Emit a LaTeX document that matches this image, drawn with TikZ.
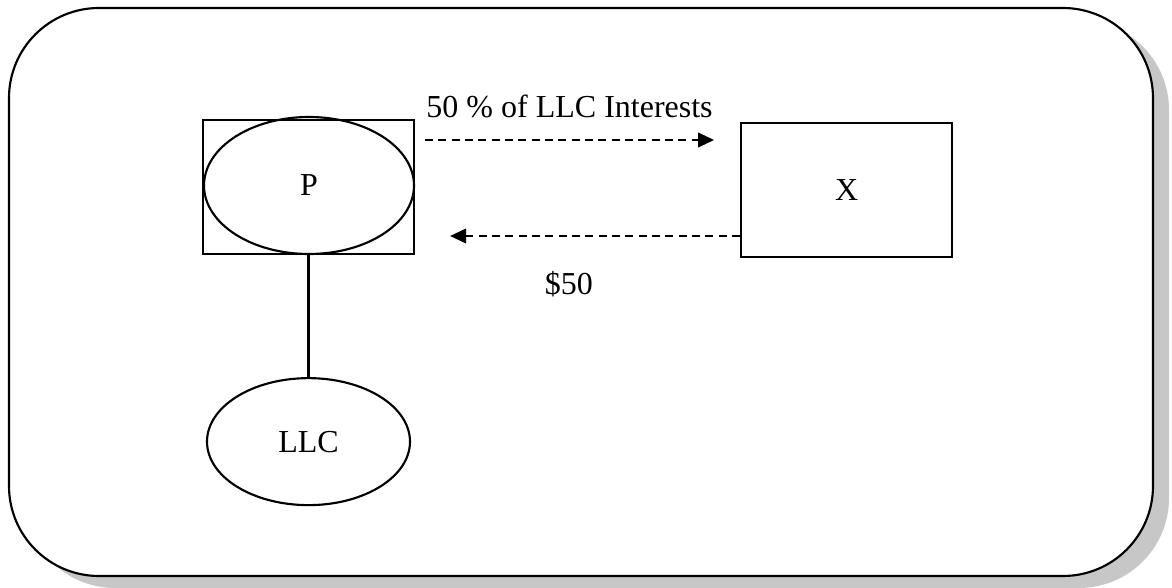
\documentclass[tikz,border=0pt]{standalone}
\usepackage{fontspec}
\setmainfont{Liberation Serif}
\usetikzlibrary{shapes.geometric, arrows.meta, positioning}

\begin{document}
\begin{tikzpicture}[
        x=0.75pt, y=-0.75pt,
        >={Triangle[length=12pt, width=11pt]},
        line width=1.6pt,
        font=\fontsize{24}{28}\selectfont,
        box/.style={draw, rectangle, minimum width=158.25pt, minimum height=100.5pt},
        oval/.style={draw, ellipse, inner sep=0pt},
        flow/.style={->, dash pattern=on 6pt off 4pt, line width=1.3pt},
        tag/.style={inner sep=0pt},
    ]

    \useasboundingbox (0,0) rectangle (1172,588);

    % Frame with shadow
    \fill[black!22, rounded corners=67.5pt] (25,20) rectangle (1169,588);
    \draw[fill=white, rounded corners=67.5pt] (9,8) rectangle (1153,576);

    % Nodes
    \node[box] (pbox) at (308.5,187) {};
    \node[oval, minimum width=157.5pt, minimum height=102.75pt] (p) at (309,185.5) {P};
    \node[box, right=243.75pt of pbox, yshift=-2.25pt] (x) {X};
    \node[oval, minimum width=152.25pt, minimum height=95.25pt, below=91.5pt of pbox] (llc) {LLC};

    % Edges
    \draw (pbox) -- (llc);

    \coordinate (sharebase) at ([xshift=7.5pt, yshift=35.25pt]pbox.east);
    \draw[flow] (sharebase) -- node[tag, above=15.75pt] {50 \% of LLC Interests} ([xshift=-19.5pt]x.west |- sharebase);

    \coordinate (paybase) at ([yshift=-34.5pt]x.west);
    \draw[flow] (paybase) -- node[tag, pos=0.59, below=26pt] {\$50} ([xshift=26.25pt]pbox.east |- paybase);

\end{tikzpicture}
\end{document}
